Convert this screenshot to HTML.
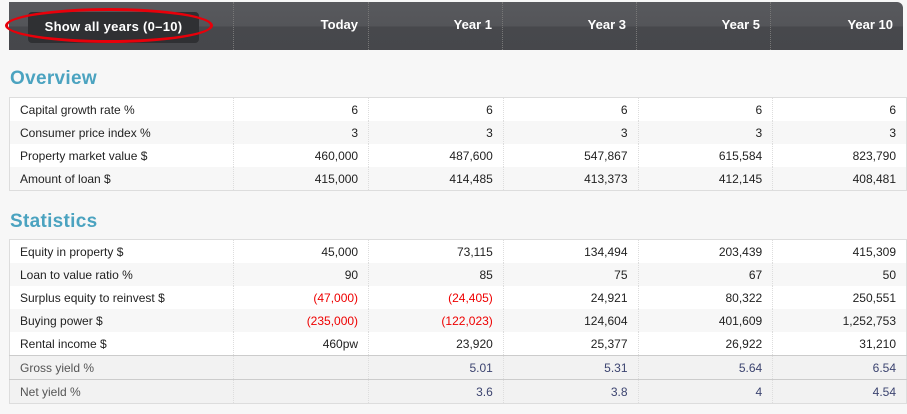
<!DOCTYPE html>
<html><head><style>
body{margin:0;width:907px;height:414px;background:#f7f7f7;font-family:"Liberation Sans",Arial,sans-serif;position:relative;overflow:hidden}
.hdr{position:absolute;left:9px;top:2px;width:894px;height:48px;background:linear-gradient(#58595d 0,#545559 50%,#47484c 52%,#46474b 100%);border-radius:0 6px 0 0}
.hc{position:absolute;top:0;height:48px;line-height:46px;color:#fff;font-weight:bold;font-size:13px;text-align:right;border-left:1px dotted #777;box-sizing:border-box;padding-right:10px}
.btn{position:absolute;left:19px;top:10px;width:171px;height:31px;background:#2f3033;border-radius:4px;color:#fff;font-weight:bold;font-size:13px;line-height:30px;text-align:center;letter-spacing:.3px}
.oval{position:absolute;left:5px;top:8px;width:208px;height:35px;border:3.5px solid #e8000a;border-radius:50%;box-sizing:border-box}
h2{position:absolute;left:10px;margin:0;color:#4ba3c0;font-size:19px;font-weight:bold;letter-spacing:.3px}
table{position:absolute;left:9px;border-collapse:collapse;background:#fff;font-size:12px;color:#222;border:1px solid #ddd}
td{height:23px;padding:0 10px;text-align:right;border-left:1px dotted #ddd}
td:first-child{text-align:left;width:204px;border-left:none}
td:not(:first-child){width:114px}
td:last-child{width:113px}
tr:nth-child(even) td{background:#f7f7f7}
.r{color:#e00}
tr.g td{background:#f2f2f2!important;color:#555;border-top:1px solid #ccc}
tr.g td:not(:first-child){color:#3c4470}
</style></head><body>
<div class="hdr">
<div class="btn">Show all years (0–10)</div>
<div class="hc" style="left:224px;width:135px;border-left:1px dotted #777">Today</div>
<div class="hc" style="left:359px;width:134px">Year 1</div>
<div class="hc" style="left:493px;width:134px">Year 3</div>
<div class="hc" style="left:627px;width:134px">Year 5</div>
<div class="hc" style="left:761px;width:133px">Year 10</div>
</div>
<div class="oval"></div>
<h2 style="top:68px">Overview</h2>
<table style="top:97px">
<tr><td>Capital growth rate %</td><td>6</td><td>6</td><td>6</td><td>6</td><td>6</td></tr>
<tr><td>Consumer price index %</td><td>3</td><td>3</td><td>3</td><td>3</td><td>3</td></tr>
<tr><td>Property market value $</td><td>460,000</td><td>487,600</td><td>547,867</td><td>615,584</td><td>823,790</td></tr>
<tr><td>Amount of loan $</td><td>415,000</td><td>414,485</td><td>413,373</td><td>412,145</td><td>408,481</td></tr>
</table>
<h2 style="top:211px">Statistics</h2>
<table style="top:239px">
<tr><td>Equity in property $</td><td>45,000</td><td>73,115</td><td>134,494</td><td>203,439</td><td>415,309</td></tr>
<tr><td>Loan to value ratio %</td><td>90</td><td>85</td><td>75</td><td>67</td><td>50</td></tr>
<tr><td>Surplus equity to reinvest $</td><td class="r">(47,000)</td><td class="r">(24,405)</td><td>24,921</td><td>80,322</td><td>250,551</td></tr>
<tr><td>Buying power $</td><td class="r">(235,000)</td><td class="r">(122,023)</td><td>124,604</td><td>401,609</td><td>1,252,753</td></tr>
<tr><td>Rental income $</td><td>460pw</td><td>23,920</td><td>25,377</td><td>26,922</td><td>31,210</td></tr>
<tr class="g"><td>Gross yield %</td><td></td><td>5.01</td><td>5.31</td><td>5.64</td><td>6.54</td></tr>
<tr class="g"><td>Net yield %</td><td></td><td>3.6</td><td>3.8</td><td>4</td><td>4.54</td></tr>
</table>
</body></html>
